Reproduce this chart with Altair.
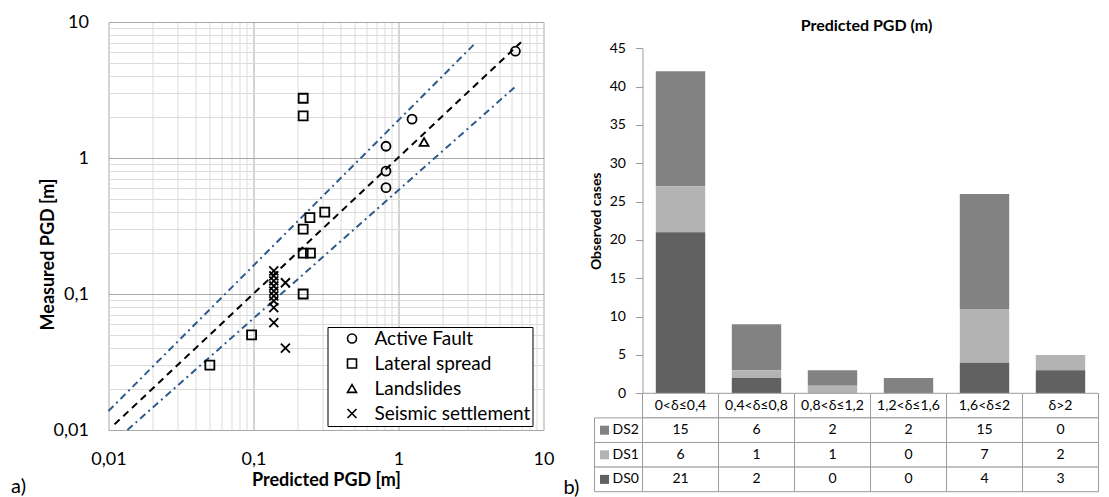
import altair as alt
import pandas as pd

# ---------------- Panel a) data ----------------
fault_x = [0.82, 0.82, 0.82, 1.24, 6.4]
fault_y = [1.22, 0.80, 0.605, 1.93, 6.1]
spread_x = [0.22, 0.22, 0.22, 0.245, 0.31, 0.22, 0.247, 0.22, 0.097, 0.050]
spread_y = [2.75, 2.04, 0.30, 0.365, 0.40, 0.20, 0.20, 0.10, 0.050, 0.030]
slide_x = [1.5]
slide_y = [1.31]
settle_x = [0.138, 0.138, 0.138, 0.138, 0.138, 0.138, 0.138, 0.138, 0.138, 0.166, 0.166]
settle_y = [0.148, 0.136, 0.125, 0.1145, 0.105, 0.0967, 0.089, 0.0794, 0.0616, 0.121, 0.040]
point_types = ["Active Fault", "Lateral spread", "Landslides", "Seismic settlement"]

line_names = ["one", "upper", "lower"]
line_x0 = [0.011, 0.01, 0.0135]
line_y0 = [0.011, 0.0138, 0.01]
line_x1 = [7.0, 3.3, 6.3]
line_y1 = [7.1, 6.8, 3.3]

log_ticks = [0.01, 0.02, 0.03, 0.04, 0.05, 0.06, 0.07, 0.08, 0.09,
             0.1, 0.2, 0.3, 0.4, 0.5, 0.6, 0.7, 0.8, 0.9,
             1, 2, 3, 4, 5, 6, 7, 8, 9, 10]
major_ticks = [0.01, 0.1, 1, 10]

# ---------------- Panel b) data ----------------
categories = ["0<δ≤0,4", "0,4<δ≤0,8", "0,8<δ≤1,2", "1,2<δ≤1,6", "1,6<δ≤2", "δ>2"]
levels = ["DS2", "DS1", "DS0"]
ds2 = [15, 6, 2, 2, 15, 0]
ds1 = [6, 1, 1, 0, 7, 2]
ds0 = [21, 2, 0, 0, 4, 3]
level_colors = ["#828282", "#b3b3b3", "#616161"]
y_ticks_b = [0, 5, 10, 15, 20, 25, 30, 35, 40, 45]
panel_labels = ["a)", "b)"]

FONT = "Lato"

# ---------------- Panel a) ----------------
pts = []
for t, xs_, ys_ in zip(point_types, [fault_x, spread_x, slide_x, settle_x],
                       [fault_y, spread_y, slide_y, settle_y]):
    for a, b in zip(xs_, ys_):
        pts.append({"type": t, "x": a, "y": b})
pts = pd.DataFrame(pts)

lines = []
for n, a0, b0, a1, b1 in zip(line_names, line_x0, line_y0, line_x1, line_y1):
    lines.append({"name": n, "x": a0, "y": b0, "o": 0})
    lines.append({"name": n, "x": a1, "y": b1, "o": 1})
lines = pd.DataFrame(lines)

major_test = "indexof(" + str(major_ticks) + ", datum.value) >= 0"
lab_expr = major_test + " ? replace(toString(datum.value), '.', ',') : ''"
grid_col = {"condition": {"test": major_test, "value": "#a8a8a8"}, "value": "#dcdcdc"}

xsc = alt.Scale(type="log", domain=[0.01, 10], nice=False)
ysc = alt.Scale(type="log", domain=[0.01, 10], nice=False)

x_axis = alt.Axis(values=log_ticks, labelExpr=lab_expr, ticks=False, domain=False,
                  grid=True, gridColor=grid_col, gridOpacity=1, labelFontSize=18,
                  labelPadding=20, labelFlush=False, labelOverlap=False,
                  labelColor="black", title="Predicted PGD [m]", titleFontSize=18,
                  titleFontWeight="bold", titlePadding=3, titleColor="black")
y_axis = alt.Axis(values=log_ticks, labelExpr=lab_expr, ticks=False, domain=False,
                  grid=True, gridColor=grid_col, gridOpacity=1, labelFontSize=18,
                  labelPadding=20, labelFlush=False, labelOverlap=False,
                  labelColor="black", title="Measured PGD [m]", titleFontSize=18,
                  titleFontWeight="bold", titlePadding=-4, titleColor="black",
                  titleY=232)

shape_scale = alt.Scale(domain=point_types,
                        range=["circle", "square", "triangle-up", "M-1,-1L1,1M-1,1L1,-1"])

points = alt.Chart(pts).mark_point(filled=False, color="black", strokeWidth=1.8,
                                   size=81, opacity=1).encode(
    x=alt.X("x:Q", scale=xsc, axis=x_axis),
    y=alt.Y("y:Q", scale=ysc, axis=y_axis),
    shape=alt.Shape("type:N", scale=shape_scale,
                    legend=alt.Legend(title=None, orient="none", legendX=219, legendY=305,
                                      strokeColor="black", fillColor="white", padding=2,
                                      symbolOffset=13, labelOffset=13, rowPadding=5,
                                      labelFontSize=19, labelColor="black", symbolSize=81,
                                      symbolStrokeColor="black", symbolFillColor="transparent",
                                      symbolStrokeWidth=1.6, cornerRadius=0)),
)

one_line = alt.Chart(lines).transform_filter(alt.datum.name == "one").mark_line(
    color="black", strokeWidth=2, strokeDash=[7, 5]).encode(
    x=alt.X("x:Q", scale=xsc), y=alt.Y("y:Q", scale=ysc), order="o:Q")
band_lines = alt.Chart(lines).transform_filter(alt.datum.name != "one").mark_line(
    color="#2e5a8c", strokeWidth=2, strokeDash=[7, 4, 2, 4]).encode(
    x=alt.X("x:Q", scale=xsc), y=alt.Y("y:Q", scale=ysc), detail="name:N", order="o:Q")

left = alt.layer(one_line, band_lines, points).properties(
    width=435, height=408,
    title=alt.Title(panel_labels[0], orient="bottom", anchor="start", dx=-28, dy=-12,
                    offset=0, fontSize=20, fontWeight="normal", color="black"))

# ---------------- Panel b) ----------------
bar_rows = []
for lv, vals, od in zip(levels, [ds2, ds1, ds0], [3, 2, 1]):
    for c, v in zip(categories, vals):
        bar_rows.append({"cat": c, "level": lv, "value": v, "ord": od})
bar_df = pd.DataFrame(bar_rows)

tab_rows = [{"cat": c, "row": "header", "txt": c} for c in categories]
for lv, vals in zip(levels, [ds2, ds1, ds0]):
    for c, v in zip(categories, vals):
        tab_rows.append({"cat": c, "row": lv, "txt": str(v)})
tab_df = pd.DataFrame(tab_rows)
leg_df = pd.DataFrame({"row": levels})
lab_df = pd.DataFrame({"lab": [panel_labels[1]]})

color_scale = alt.Scale(domain=levels, range=level_colors)
GRID = "#9c9c9c"
COLW = 76
RH = 469.7          # height of the panel's data rectangle (bars + table)
BAR_BOTTOM = 371.3  # pixel of value 0
BAR_TOP = 26.3      # pixel of value 45

xcat = alt.X("cat:N", sort=categories, scale=alt.Scale(paddingInner=0, paddingOuter=0),
             axis=None)
row_scale = alt.Scale(domain=["header"] + levels, range=[BAR_BOTTOM, RH],
                      paddingInner=0, paddingOuter=0)

bars = alt.Chart(bar_df).mark_bar(width={"band": 0.65}, stroke=None).encode(
    x=xcat,
    y=alt.Y("value:Q", stack="zero",
            scale=alt.Scale(domain=[0, 45], range=[BAR_BOTTOM, BAR_TOP], nice=False),
            axis=alt.Axis(values=y_ticks_b, grid=False, tickSize=7, tickColor=GRID,
                          domainColor=GRID, labelPadding=10, labelFontSize=14,
                          labelColor="black", title="Observed cases", titleFontSize=14,
                          titleFontWeight="bold", titleColor="black", titlePadding=6)),
    color=alt.Color("level:N", scale=color_scale, legend=None),
    order=alt.Order("ord:Q"),
)

cell_rects = alt.Chart(tab_df).mark_rect(fill="white", stroke=GRID, strokeWidth=1).encode(
    x=xcat, y=alt.Y("row:N", scale=row_scale, axis=None))
cell_text = alt.Chart(tab_df).mark_text(fontSize=14, color="black").encode(
    x=xcat, y=alt.Y("row:N", scale=row_scale, axis=None), text="txt:N")

leg_rects = alt.Chart(leg_df).mark_rect(fill="white", stroke=GRID, strokeWidth=1).encode(
    x=alt.value(-48), x2=alt.value(0), y=alt.Y("row:N", scale=row_scale, axis=None))
leg_squares = alt.Chart(leg_df).mark_square(size=81, opacity=1).encode(
    x=alt.value(-38), y=alt.Y("row:N", scale=row_scale, axis=None),
    color=alt.Color("row:N", scale=color_scale, legend=None))
leg_text = alt.Chart(leg_df).mark_text(align="left", fontSize=14, color="black").encode(
    x=alt.value(-30), y=alt.Y("row:N", scale=row_scale, axis=None), text="row:N")
b_label = alt.Chart(lab_df).mark_text(align="left", baseline="middle", fontSize=20,
                                      color="black").encode(
    x=alt.value(-79), y=alt.value(466), text="lab:N")

right = alt.layer(bars, cell_rects, cell_text, leg_rects, leg_squares, leg_text,
                  b_label).resolve_scale(y="independent").properties(
    width=6 * COLW, height=RH,
    title=alt.Title("Predicted PGD (m)", fontSize=16, fontWeight="bold", color="black",
                    offset=-12, dx=-4))

chart = alt.hconcat(left, right, spacing=9).properties(
    padding={"left": 2.5, "top": 5, "right": 0, "bottom": 0}
).configure(font=FONT).configure_view(stroke=None)

chart.save("out.html", embed_options={"renderer": "svg", "actions": False})
